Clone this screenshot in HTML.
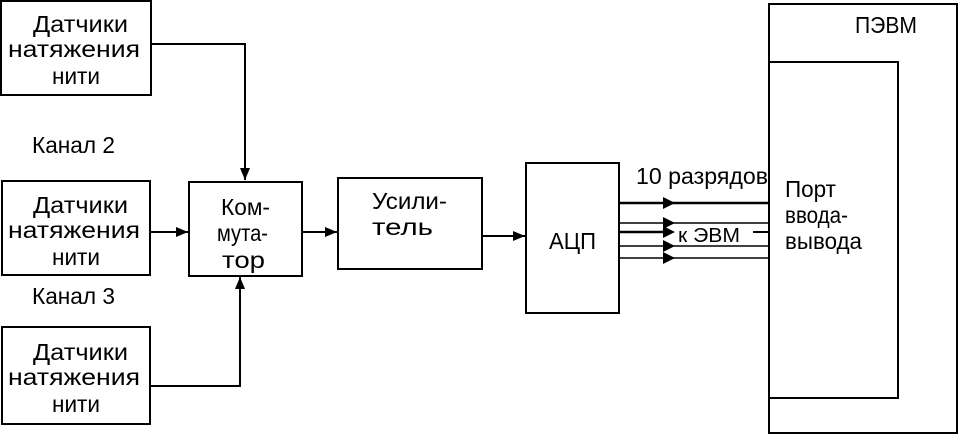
<!DOCTYPE html>
<html><head><meta charset="utf-8"><style>
html,body{margin:0;padding:0;background:#fff;}
svg{display:block;}
text{font-family:"Liberation Sans",sans-serif;font-size:23px;fill:#000;}
</style></head><body>
<svg width="958" height="437" viewBox="0 0 958 437" xmlns="http://www.w3.org/2000/svg">
<defs>
<marker id="a" markerWidth="12" markerHeight="10" refX="12" refY="5" orient="auto" markerUnits="userSpaceOnUse">
<path d="M0,0 L12,5 L0,10 z" fill="#000"/></marker>
</defs>
<g fill="none" stroke="#000" stroke-width="2">
<rect x="1" y="1" width="150" height="94"/>
<rect x="2" y="181" width="148" height="94"/>
<rect x="2" y="327" width="148" height="97"/>
<rect x="189" y="182" width="113" height="94"/>
<rect x="338" y="178" width="144" height="91"/>
<rect x="526" y="163" width="93" height="150"/>
<rect x="769" y="4" width="188" height="429"/>
<polyline points="769,62 898,62 898,398 769,398"/>
<polyline points="151,44 245,44 245,180" marker-end="url(#a)"/>
<line x1="150" y1="232" x2="188" y2="232" marker-end="url(#a)"/>
<line x1="302" y1="232" x2="337" y2="232" marker-end="url(#a)"/>
<line x1="482" y1="236" x2="525" y2="236" marker-end="url(#a)"/>
<polyline points="150,386 240,386 240,277" marker-end="url(#a)"/>
<line x1="619" y1="203" x2="769" y2="203" stroke-width="2.5"/>
<line x1="619" y1="232" x2="672" y2="232" stroke-width="2.5"/>
<line x1="753" y1="232" x2="769" y2="232"/>
</g>
<g fill="none" stroke="#000" stroke-width="1.5">
<line x1="619" y1="223" x2="769" y2="223"/>
<line x1="619" y1="246" x2="769" y2="246"/>
<line x1="619" y1="258" x2="769" y2="258"/>
</g>
<g fill="#000">
<path d="M663,197 L675,203 L663,209z"/>
<path d="M663,217 L675,223 L663,229z"/>
<path d="M663,226 L675,232 L663,238z"/>
<path d="M663,240 L675,246 L663,252z"/>
<path d="M663,252 L675,258 L663,264z"/>
</g>
<g lengthAdjust="spacingAndGlyphs">
<text x="33" y="32" textLength="95" lengthAdjust="spacingAndGlyphs">Датчики</text>
<text x="8" y="57" textLength="132" lengthAdjust="spacingAndGlyphs">натяжения</text>
<text x="52" y="84" textLength="48" lengthAdjust="spacingAndGlyphs">нити</text>
<text x="33" y="213" textLength="95" lengthAdjust="spacingAndGlyphs">Датчики</text>
<text x="8" y="238" textLength="132" lengthAdjust="spacingAndGlyphs">натяжения</text>
<text x="52" y="265" textLength="48" lengthAdjust="spacingAndGlyphs">нити</text>
<text x="33" y="360" textLength="95" lengthAdjust="spacingAndGlyphs">Датчики</text>
<text x="8" y="385" textLength="132" lengthAdjust="spacingAndGlyphs">натяжения</text>
<text x="52" y="412" textLength="48" lengthAdjust="spacingAndGlyphs">нити</text>
<text x="221" y="215" textLength="49" lengthAdjust="spacingAndGlyphs">Ком-</text>
<text x="217" y="241" textLength="51" lengthAdjust="spacingAndGlyphs">мута-</text>
<text x="222" y="268" textLength="43" lengthAdjust="spacingAndGlyphs">тор</text>
<text x="372" y="209" textLength="75" lengthAdjust="spacingAndGlyphs">Усили-</text>
<text x="372" y="235" textLength="61" lengthAdjust="spacingAndGlyphs">тель</text>
<text x="549" y="249" textLength="47" lengthAdjust="spacingAndGlyphs">АЦП</text>
<text x="32" y="153" textLength="83" lengthAdjust="spacingAndGlyphs">Канал 2</text>
<text x="32" y="304" textLength="83" lengthAdjust="spacingAndGlyphs">Канал 3</text>
<text x="636" y="184" textLength="132" lengthAdjust="spacingAndGlyphs">10 разрядов</text>
<text x="678" y="242" textLength="62" lengthAdjust="spacingAndGlyphs" style="font-size:20px">к ЭВМ</text>
<text x="785" y="197" textLength="51" lengthAdjust="spacingAndGlyphs">Порт</text>
<text x="785" y="223" textLength="63" lengthAdjust="spacingAndGlyphs">ввода-</text>
<text x="785" y="249" textLength="77" lengthAdjust="spacingAndGlyphs">вывода</text>
<text x="855" y="33" textLength="62" lengthAdjust="spacingAndGlyphs">ПЭВМ</text>
</g>
</svg>
</body></html>
